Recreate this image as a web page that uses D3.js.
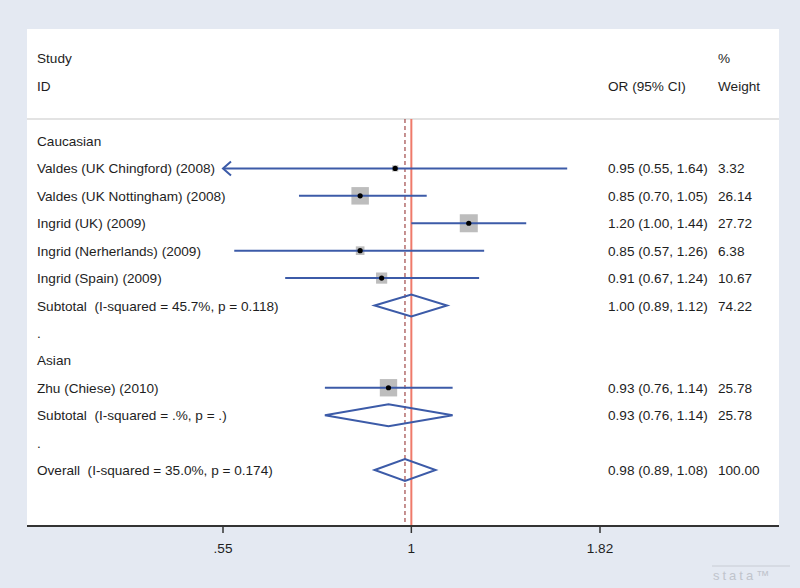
<!DOCTYPE html>
<html>
<head>
<meta charset="utf-8">
<script src="https://cdn.jsdelivr.net/npm/d3@7"></script>
<style>
  body { margin: 0; background: #e4e9f2; }
  text { font-family: "Liberation Sans", Arial, sans-serif; font-size: 13.6px; fill: #1e1e1e; white-space: pre; }
</style>
</head>
<body>
<div id="forest"></div>
<script>
// rows of the forest plot, top to bottom
var rowLabels = ["Caucasian", "Valdes (UK Chingford) (2008)", "Valdes (UK Nottingham) (2008)",
    "Ingrid (UK) (2009)", "Ingrid (Nerherlands) (2009)", "Ingrid (Spain) (2009)",
    "Subtotal  (I-squared = 45.7%, p = 0.118)", ".", "Asian", "Zhu (Chiese) (2010)",
    "Subtotal  (I-squared = .%, p = .)", ".", "Overall  (I-squared = 35.0%, p = 0.174)"];

// individual studies
var studyRow = [1, 2, 3, 4, 5, 9];
var studyOR = [0.95, 0.85, 1.20, 0.85, 0.91, 0.93];
var studyLo = [0.55, 0.70, 1.00, 0.57, 0.67, 0.76];
var studyHi = [1.64, 1.05, 1.44, 1.26, 1.24, 1.14];
var studyWeight = [3.32, 26.14, 27.72, 6.38, 10.67, 25.78];

// pooled estimates (diamonds)
var poolRow = [6, 10, 12];
var poolOR = [1.00, 0.93, 0.98];
var poolLo = [0.89, 0.76, 0.89];
var poolHi = [1.12, 1.14, 1.08];
var poolWeight = [74.22, 25.78, 100.00];

var overallOR = 0.98;
var xTicks = [0.55, 1, 1.82];
var xTickLabels = [".55", "1", "1.82"];

var W = 800, H = 588;
var plotLeft = 27, plotRight = 779, plotTop = 29, axisY = 526;

var svg = d3.select("#forest")
    .append("svg")
    .attr("width", W)
    .attr("height", H);

// white plot region
svg.append("rect")
    .attr("x", plotLeft)
    .attr("y", plotTop)
    .attr("width", plotRight - plotLeft)
    .attr("height", axisY - plotTop)
    .attr("fill", "#ffffff");

var x = d3.scaleLog()
    .domain([0.55, 1.82])
    .range([223, 600]);

var y = d3.scaleLinear()
    .domain([0, 12])
    .range([141, 470]);

var blue = "#3c5ba8";

// header
svg.append("text").attr("x", 37).attr("y", 63).text("Study");
svg.append("text").attr("x", 37).attr("y", 91).text("ID");
svg.append("text").attr("x", 718).attr("y", 63).text("%");
svg.append("text").attr("x", 608).attr("y", 91).text("OR (95% CI)");
svg.append("text").attr("x", 718).attr("y", 91).text("Weight");

svg.append("line")
    .attr("x1", plotLeft).attr("x2", plotRight)
    .attr("y1", 119).attr("y2", 119)
    .attr("stroke", "#c8c8c8")
    .attr("stroke-width", 1.2);

// row labels
svg.selectAll("text.rowLabel")
    .data(rowLabels)
    .enter().append("text")
    .attr("class", "rowLabel")
    .attr("x", 37)
    .attr("y", function (d, i) { return y(i) + 5; })
    .text(function (d) { return d; });

// null line and overall estimate line
svg.append("line")
    .attr("x1", x(1)).attr("x2", x(1))
    .attr("y1", 119).attr("y2", axisY)
    .attr("stroke", "#ef7a6a")
    .attr("stroke-width", 2);

svg.append("line")
    .attr("x1", x(overallOR)).attr("x2", x(overallOR))
    .attr("y1", 119).attr("y2", axisY)
    .attr("stroke", "#a04848")
    .attr("stroke-width", 1.2)
    .attr("stroke-dasharray", "4,3");

// study weight boxes
svg.selectAll("rect.box")
    .data(studyOR)
    .enter().append("rect")
    .attr("class", "box")
    .attr("fill", "#bdbdbd")
    .attr("x", function (d, i) { return x(d) - 3.42 * Math.sqrt(studyWeight[i]) / 2; })
    .attr("y", function (d, i) { return y(studyRow[i]) - 3.42 * Math.sqrt(studyWeight[i]) / 2; })
    .attr("width", function (d, i) { return 3.42 * Math.sqrt(studyWeight[i]); })
    .attr("height", function (d, i) { return 3.42 * Math.sqrt(studyWeight[i]); });

// CI lines
svg.selectAll("line.ci")
    .data(studyOR)
    .enter().append("line")
    .attr("class", "ci")
    .attr("x1", function (d, i) { return x(studyLo[i]); })
    .attr("x2", function (d, i) { return x(studyHi[i]); })
    .attr("y1", function (d, i) { return y(studyRow[i]); })
    .attr("y2", function (d, i) { return y(studyRow[i]); })
    .attr("stroke", blue)
    .attr("stroke-width", 2);

// arrow for CI reaching the axis limit
studyLo.forEach(function (lo, i) {
    if (lo <= x.domain()[0]) {
        var ax = x(x.domain()[0]), ay = y(studyRow[i]);
        svg.append("path")
            .attr("d", "M" + (ax + 8) + "," + (ay - 7) + "L" + ax + "," + ay + "L" + (ax + 8) + "," + (ay + 7))
            .attr("fill", "none")
            .attr("stroke", blue)
            .attr("stroke-width", 2);
    }
});

// point estimates
svg.selectAll("circle.est")
    .data(studyOR)
    .enter().append("circle")
    .attr("class", "est")
    .attr("cx", function (d) { return x(d); })
    .attr("cy", function (d, i) { return y(studyRow[i]); })
    .attr("r", 2.6)
    .attr("fill", "#000");

// pooled diamonds
svg.selectAll("path.diamond")
    .data(poolOR)
    .enter().append("path")
    .attr("class", "diamond")
    .attr("d", function (d, i) {
        var cy = y(poolRow[i]);
        return "M" + x(poolLo[i]) + "," + cy + "L" + x(d) + "," + (cy - 11) +
            "L" + x(poolHi[i]) + "," + cy + "L" + x(d) + "," + (cy + 11) + "Z";
    })
    .attr("fill", "none")
    .attr("stroke", blue)
    .attr("stroke-width", 2);

// estimate text columns
function ciText(or, lo, hi) {
    return or.toFixed(2) + " (" + lo.toFixed(2) + ", " + hi.toFixed(2) + ")";
}

studyOR.forEach(function (d, i) {
    svg.append("text").attr("x", 608).attr("y", y(studyRow[i]) + 5).text(ciText(d, studyLo[i], studyHi[i]));
    svg.append("text").attr("x", 718).attr("y", y(studyRow[i]) + 5).text(studyWeight[i].toFixed(2));
});
poolOR.forEach(function (d, i) {
    svg.append("text").attr("x", 608).attr("y", y(poolRow[i]) + 5).text(ciText(d, poolLo[i], poolHi[i]));
    svg.append("text").attr("x", 718).attr("y", y(poolRow[i]) + 5).text(poolWeight[i].toFixed(2));
});

// x axis
svg.append("line")
    .attr("x1", plotLeft).attr("x2", plotRight)
    .attr("y1", axisY).attr("y2", axisY)
    .attr("stroke", "#333")
    .attr("stroke-width", 2);

svg.selectAll("line.tick")
    .data(xTicks)
    .enter().append("line")
    .attr("class", "tick")
    .attr("x1", function (d) { return x(d); })
    .attr("x2", function (d) { return x(d); })
    .attr("y1", axisY).attr("y2", axisY + 7)
    .attr("stroke", "#333")
    .attr("stroke-width", 1.5);

svg.selectAll("text.tickLabel")
    .data(xTicks)
    .enter().append("text")
    .attr("class", "tickLabel")
    .attr("text-anchor", "middle")
    .attr("x", function (d) { return x(d); })
    .attr("y", 553)
    .text(function (d, i) { return xTickLabels[i]; });

// stata mark
svg.append("line").attr("x1", 712).attr("x2", 790).attr("y1", 566).attr("y2", 566)
    .attr("stroke", "#c8ccd4").attr("stroke-width", 1);
svg.append("text")
    .attr("x", 713).attr("y", 580)
    .style("font-size", "13px")
    .style("letter-spacing", "3px")
    .style("fill", "#c0c4cc")
    .text("stata\u2122");
</script>
</body>
</html>
